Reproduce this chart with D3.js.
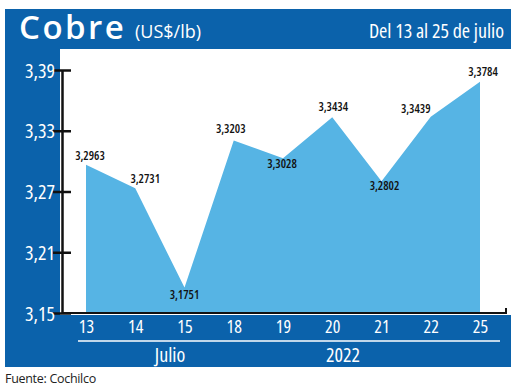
<!DOCTYPE html>
<html lang="es">
<head>
<meta charset="UTF-8">
<script src="https://d3js.org/d3.v7.min.js"></script>
<title>Cobre</title>
<style>
  body { margin: 0; background: #fff; }
  svg { display: block; }
</style>
</head>
<body>
<div id="chart"></div>
<script>
// data
var days = ["13", "14", "15", "18", "19", "20", "21", "22", "25"];
var prices = [3.2963, 3.2731, 3.1751, 3.3203, 3.3028, 3.3434, 3.2802, 3.3439, 3.3784];
var priceLabels = ["3,2963", "3,2731", "3,1751", "3,3203", "3,3028", "3,3434", "3,2802", "3,3439", "3,3784"];
var yTicks = [3.15, 3.21, 3.27, 3.33, 3.39];

var W = 520, H = 389;
var blue = "#0b62ab", area = "#56b4e4";
var font = "'Open Sans', sans-serif";

var svg = d3.select("#chart").append("svg")
  .attr("width", W).attr("height", H);

// blue frame: title bar, left column, bottom band
svg.append("rect").attr("x", 5).attr("y", 9).attr("width", 506).attr("height", 40).attr("fill", blue);
svg.append("rect").attr("x", 5).attr("y", 48).attr("width", 55).attr("height", 319).attr("fill", blue);
svg.append("rect").attr("x", 59).attr("y", 315).attr("width", 452).attr("height", 52).attr("fill", blue);

// title
svg.append("text").attr("x", 19).attr("y", 39)
  .attr("fill", "#fff").style("font-family", font)
  .style("font-weight", 600).style("font-size", "33px").style("letter-spacing", "2.5px")
  .text("Cobre");
svg.append("text").attr("x", 135).attr("y", 38)
  .attr("fill", "#fff").style("font-family", font)
  .style("font-size", "18px").style("font-stretch", "90%").text("(US$/lb)");
svg.append("text").attr("x", 504).attr("y", 38).attr("text-anchor", "end")
  .attr("fill", "#fff").style("font-family", font)
  .style("font-size", "20px").style("font-stretch", "80%").text("Del 13 al 25 de julio");

// scales
var x = d3.scalePoint().domain(days).range([86, 480]);
var y = d3.scaleLinear().domain([3.15, 3.39]).range([313, 70]);

// area
var data = days.map(function(d, i) { return {day: d, value: prices[i], label: priceLabels[i]}; });
svg.append("path")
  .datum(data)
  .attr("fill", area)
  .attr("d", d3.area()
    .x(function(d) { return x(d.day); })
    .y0(y(3.15))
    .y1(function(d) { return y(d.value); }));

// y axis (black line with ticks across it)
var yAxis = svg.append("g").attr("transform", "translate(62,0)")
  .call(d3.axisLeft(y).tickValues(yTicks).tickSize(0).tickFormat(""));
yAxis.select(".domain").attr("stroke", "#111").attr("stroke-width", 2.5);
yAxis.selectAll(".tick").append("line")
  .attr("x1", -9).attr("x2", 9).attr("stroke", "#111").attr("stroke-width", 2.5);
yAxis.selectAll(".tick").append("text")
  .attr("x", -7).attr("dy", "0.35em").attr("text-anchor", "end")
  .attr("fill", "#fff").style("font-family", font)
  .style("font-size", "20px").style("font-stretch", "75%")
  .text(function(d) { return d3.format(".2f")(d).replace(".", ","); });

// bottom axis line with end tick
svg.append("path")
  .attr("d", "M62," + y(3.15) + "H506V" + (y(3.15) - 5))
  .attr("fill", "none").attr("stroke", "#111").attr("stroke-width", 2);

// x tick labels
var xAxis = svg.append("g").attr("transform", "translate(0,316)")
  .call(d3.axisBottom(x).tickSize(0).tickPadding(4));
xAxis.select(".domain").remove();
xAxis.selectAll("text")
  .attr("fill", "#fff").style("font-family", font)
  .style("font-size", "18px").style("font-stretch", "80%");

// separator and period labels
svg.append("line").attr("x1", 78).attr("x2", 500).attr("y1", 341).attr("y2", 341)
  .attr("stroke", "#fff").attr("stroke-width", 1.5);
svg.append("text").attr("x", 170).attr("y", 362).attr("text-anchor", "middle")
  .attr("fill", "#fff").style("font-family", font).style("font-size", "20px").style("font-stretch", "85%")
  .text("Julio");
svg.append("text").attr("x", 343).attr("y", 362).attr("text-anchor", "middle")
  .attr("fill", "#fff").style("font-family", font).style("font-size", "20px").style("font-stretch", "85%")
  .text("2022");

// value labels: offsets per point (dx, baseline dy from the point)
var offsets = [[4, -5], [10, -5], [0, 11], [-3, -8], [-1, 10], [1, -6], [3, 9], [-15, -4], [3, -6]];
svg.append("g").selectAll("text")
  .data(data)
  .join("text")
  .attr("x", function(d, i) { return x(d.day) + offsets[i][0]; })
  .attr("y", function(d, i) { return y(d.value) + offsets[i][1]; })
  .attr("text-anchor", "middle")
  .attr("fill", "#111")
  .style("font-family", font).style("font-size", "12px")
  .style("font-stretch", "75%").style("font-weight", 600)
  .text(function(d) { return d.label; });

// source
svg.append("text").attr("x", 5).attr("y", 383)
  .attr("fill", "#222").style("font-family", font).style("font-size", "12.5px")
  .style("letter-spacing", "-0.3px")
  .text("Fuente: Cochilco");
</script>
</body>
</html>
